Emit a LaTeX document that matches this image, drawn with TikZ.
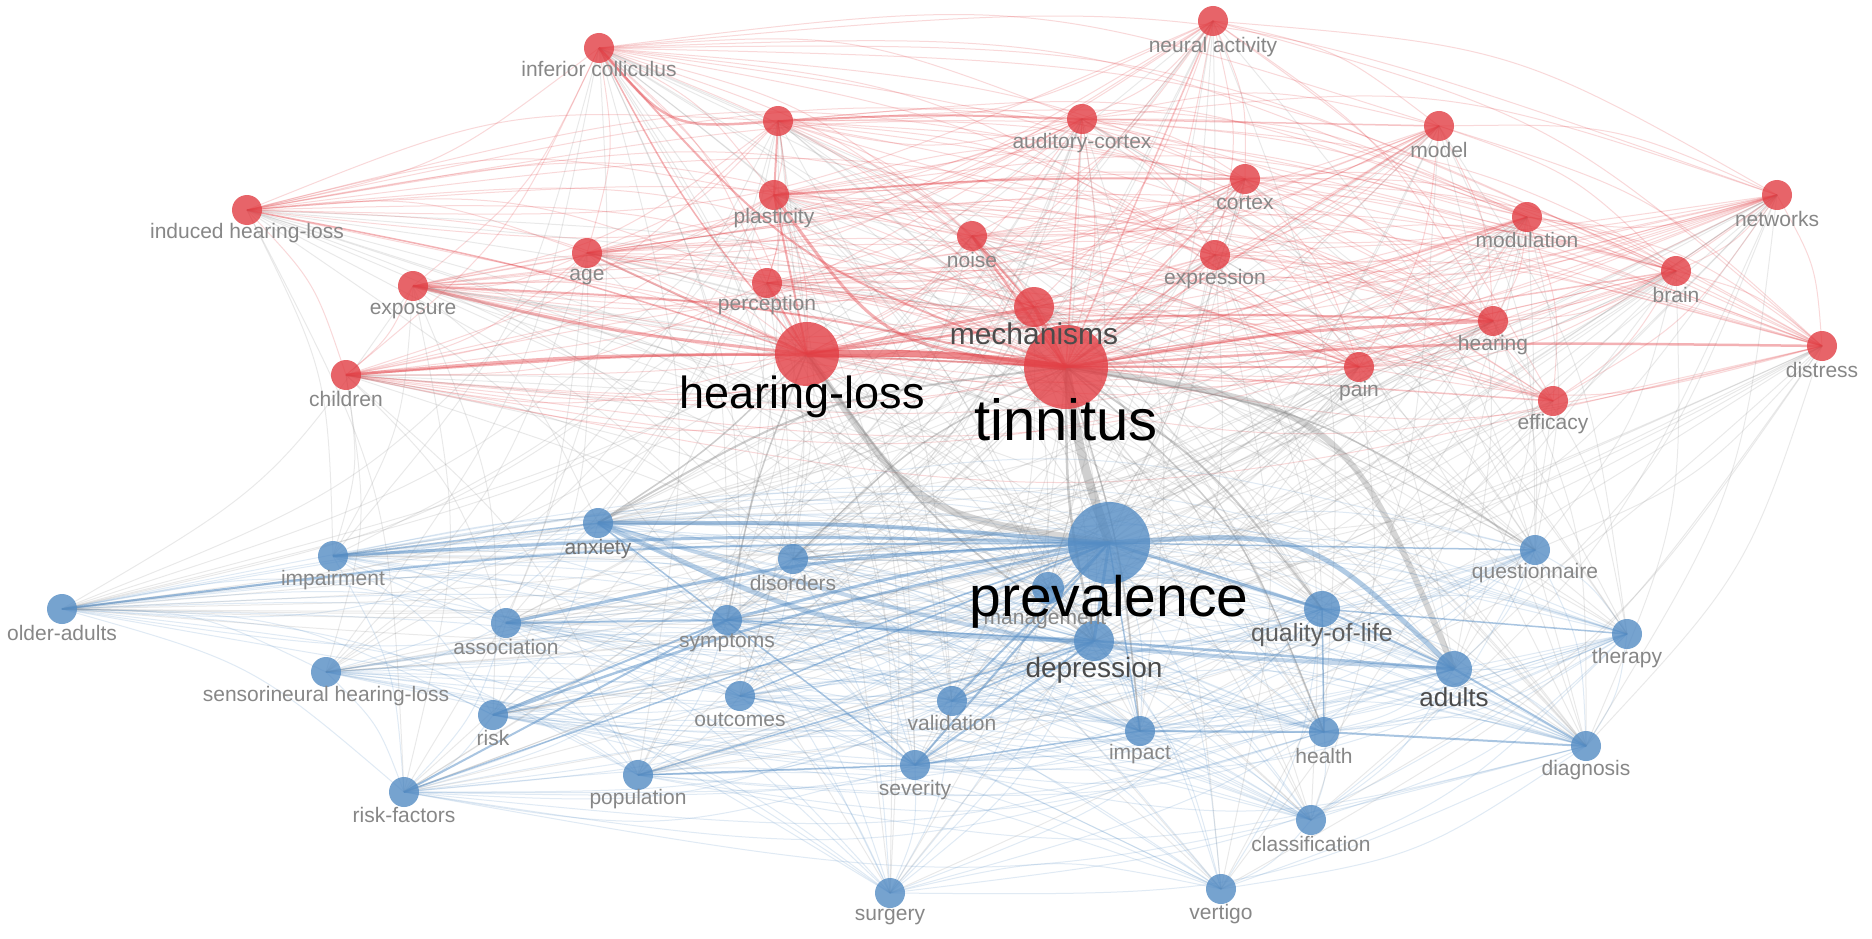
\documentclass[tikz,border=0pt]{standalone}
\usepackage{fontspec}
\setmainfont{Liberation Sans}
\usetikzlibrary{calc}
\definecolor{vred}{RGB}{226,62,68}
\definecolor{vblue}{RGB}{84,140,196}
\definecolor{labgray}{RGB}{135,135,135}
\definecolor{midgray}{RGB}{75,75,75}
\definecolor{edgegray}{RGB}{130,130,130}
\pgfdeclarelayer{bglayer}
\pgfdeclarelayer{edgelayer}
\pgfsetlayers{bglayer,edgelayer,main}
% curved edge: style, from, to, bend factor (positive = bend left)
\newcommand\cedge[4]{\draw[#1] let \p1=(#2.center), \p2=(#3.center) in
  (\p1) .. controls ({0.5*\x1+0.5*\x2-(#4)*(\y2-\y1)},{0.5*\y1+0.5*\y2+(#4)*(\x2-\x1)}) .. (\p2);}
\begin{document}
\begin{tikzpicture}[x=1pt,y=-1pt,
  rn/.style={circle,fill=vred,fill opacity=0.8,draw=none,inner sep=0pt,minimum size=30pt},
  bn/.style={circle,fill=vblue,fill opacity=0.8,draw=none,inner sep=0pt,minimum size=30pt},
  lbl/.style={text=labgray,font=\fontsize{21}{22}\selectfont,inner sep=0pt},
  mlbl/.style={text=midgray,inner sep=0pt},
  blbl/.style={text=black,inner sep=0pt},
  rf/.style={draw=vred,draw opacity=0.2,line width=1pt},
  bf/.style={draw=vblue,draw opacity=0.18,line width=1pt},
  gf/.style={draw=edgegray,draw opacity=0.17,line width=1pt},
  rs/.style={draw=vred,draw opacity=0.4},
  bs/.style={draw=vblue,draw opacity=0.5},
  gs/.style={draw=edgegray,draw opacity=0.4}]
\useasboundingbox (0,0) rectangle (1872,939);
\begin{pgfonlayer}{bglayer}
\fill[white] (0,0) rectangle (1872,939);
\end{pgfonlayer}
% ---------- red cluster ----------
\node[rn] (infcol) at (599,48) {};
\node[rn] (neural) at (1213,21) {};
\node[rn] (audcx) at (1082,119) {};
\node[rn] (model) at (1439,126) {};
\node[rn] (networks) at (1777,195) {};
\node[rn] (indhl) at (247,210) {};
\node[rn] (unl) at (778,121) {};
\node[rn] (plast) at (774,195) {};
\node[rn] (cortex) at (1245,179) {};
\node[rn] (modul) at (1527,217) {};
\node[rn] (age) at (587,253) {};
\node[rn] (noise) at (972,236) {};
\node[rn] (expr) at (1215,255) {};
\node[rn] (brain) at (1676,271) {};
\node[rn] (expos) at (413,286) {};
\node[rn] (percep) at (767,283) {};
\node[rn,minimum size=40pt] (mech) at (1034,307) {};
\node[rn] (hearing) at (1493,321) {};
\node[rn] (distress) at (1822,346) {};
\node[rn,minimum size=64pt] (hl) at (807,354) {};
\node[rn,minimum size=84pt] (tinn) at (1066,367) {};
\node[rn] (children) at (346,375) {};
\node[rn] (pain) at (1359,367) {};
\node[rn] (efficacy) at (1553,401) {};
% ---------- blue cluster ----------
\node[bn] (anxiety) at (598,523) {};
\node[bn] (quest) at (1535,550) {};
\node[bn] (impair) at (333,556) {};
\node[bn] (disord) at (793,559) {};
\node[bn] (olderad) at (62,609) {};
\node[bn,minimum size=32pt] (manag) at (1048,588) {};
\node[bn,minimum size=36pt] (qol) at (1322,609) {};
\node[bn] (therapy) at (1627,634) {};
\node[bn] (assoc) at (506,623) {};
\node[bn] (sympt) at (727,620) {};
\node[bn,minimum size=40pt] (depr) at (1094,641) {};
\node[bn,minimum size=36pt] (adults) at (1454,669) {};
\node[bn] (snhl) at (326,672) {};
\node[bn] (outcomes) at (740,696) {};
\node[bn] (valid) at (952,701) {};
\node[bn] (risk) at (493,715) {};
\node[bn] (impact) at (1140,731) {};
\node[bn] (health) at (1324,732) {};
\node[bn] (diagnosis) at (1586,746) {};
\node[bn] (population) at (638,775) {};
\node[bn] (severity) at (915,765) {};
\node[bn] (riskf) at (404,792) {};
\node[bn] (classif) at (1311,820) {};
\node[bn] (surgery) at (890,893) {};
\node[bn] (vertigo) at (1221,889) {};
\node[bn,minimum size=82pt] (prev) at (1109,543) {};
% ---------- edges ----------
\def\rednodes{infcol,neural,audcx,model,networks,indhl,unl,plast,cortex,modul,age,noise,expr,brain,expos,percep,mech,hearing,distress,hl,tinn,children,pain,efficacy}
\def\bluenodes{prev,anxiety,quest,impair,disord,olderad,manag,qol,therapy,assoc,sympt,depr,adults,snhl,outcomes,valid,risk,impact,health,diagnosis,population,severity,riskf,classif,surgery,vertigo}
\pgfmathsetseed{7}
\begin{pgfonlayer}{edgelayer}
\foreach \ea [count=\ei] in \rednodes {
  \foreach \eb [count=\ej] in \rednodes {
    \ifnum\ej>\ei\relax
      \pgfmathtruncatemacro\keep{rnd<0.85 ? 1 : 0}%
      \ifnum\keep=1\relax \cedge{rf}{\ea}{\eb}{0.11}\fi
    \fi
  }
}
\foreach \ea [count=\ei] in \bluenodes {
  \foreach \eb [count=\ej] in \bluenodes {
    \ifnum\ej>\ei\relax
      \pgfmathtruncatemacro\keep{rnd<0.75 ? 1 : 0}%
      \ifnum\keep=1\relax \cedge{bf}{\ea}{\eb}{0.11}\fi
    \fi
  }
}
\foreach \ea in \rednodes {
  \foreach \eb in \bluenodes {
    \pgfmathtruncatemacro\keep{rnd<0.45 ? 1 : 0}%
    \ifnum\keep=1\relax \cedge{gf}{\ea}{\eb}{0.11}\fi
  }
}
% strong gray
\cedge{gs,line width=9pt,draw opacity=0.38}{tinn}{prev}{-0.04}
\cedge{gs,line width=7pt,draw opacity=0.32}{hl}{prev}{-0.22}
\cedge{gs,line width=6pt,draw opacity=0.32}{tinn}{adults}{0.28}
\cedge{gs,line width=2.5pt}{tinn}{depr}{-0.05}
\cedge{gs,line width=2pt}{tinn}{qol}{0.08}
\cedge{gs,line width=2pt}{tinn}{anxiety}{-0.1}
\cedge{gs,line width=1.8pt}{hl}{depr}{-0.08}
\cedge{gs,line width=1.5pt}{tinn}{quest}{0.1}
\cedge{gs,line width=1.5pt}{tinn}{impact}{0.05}
\cedge{gs,line width=1.5pt}{hl}{sympt}{-0.05}
\cedge{gs,line width=1.5pt}{hl}{anxiety}{0.05}
\cedge{gs,line width=1.5pt}{tinn}{health}{0.12}
\cedge{gs,line width=1.5pt}{tinn}{disord}{-0.08}
% strong red
\cedge{rs,line width=7pt,draw opacity=0.6}{hl}{tinn}{0.03}
\draw[rs,line width=3pt] (hl.center) -- (mech.center);
\draw[rs,line width=4pt] (mech.center) -- (tinn.center);
\cedge{rs,line width=3pt}{children}{hl}{0.02}
\cedge{rs,line width=3pt}{expos}{hl}{-0.03}
\cedge{rs,line width=2pt}{expos}{tinn}{0.04}
\cedge{rs,line width=2pt}{children}{tinn}{0.03}
\draw[rs,line width=2pt] (age.center) -- (hl.center);
\draw[rs,line width=2pt] (percep.center) -- (hl.center);
\draw[rs,line width=2pt] (plast.center) -- (hl.center);
\draw[rs,line width=2pt] (unl.center) -- (plast.center);
\cedge{rs,line width=2.5pt}{infcol}{unl}{-0.25}
\cedge{rs,line width=2pt}{infcol}{tinn}{-0.12}
\cedge{rs,line width=1.5pt}{infcol}{hl}{-0.05}
\cedge{rs,line width=2pt}{unl}{audcx}{0.02}
\draw[rs,line width=1.5pt,draw opacity=0.3] (audcx.center) -- (model.center);
\cedge{rs,line width=3pt}{plast}{tinn}{-0.22}
\cedge{rs,line width=2pt}{plast}{cortex}{0.02}
\draw[rs,line width=2.5pt] (noise.center) -- (tinn.center);
\draw[rs,line width=2pt] (noise.center) -- (mech.center);
\cedge{rs,line width=3pt}{tinn}{hearing}{0.03}
\cedge{rs,line width=2.5pt}{tinn}{distress}{0.02}
\cedge{rs,line width=2pt}{hl}{hearing}{0.04}
\draw[rs,line width=2pt] (tinn.center) -- (pain.center);
\draw[rs,line width=1.5pt,draw opacity=0.3] (tinn.center) -- (expr.center);
\draw[rs,line width=1.5pt,draw opacity=0.3] (tinn.center) -- (efficacy.center);
\draw[rs,line width=1.5pt,draw opacity=0.3] (tinn.center) -- (brain.center);
\draw[rs,line width=1.5pt,draw opacity=0.3] (tinn.center) -- (audcx.center);
\draw[rs,line width=1.5pt,draw opacity=0.3] (tinn.center) -- (neural.center);
\draw[rs,line width=1.5pt,draw opacity=0.3] (tinn.center) -- (cortex.center);
\draw[rs,line width=1.5pt,draw opacity=0.3] (tinn.center) -- (modul.center);
\draw[rs,line width=1.5pt,draw opacity=0.3] (tinn.center) -- (model.center);
\cedge{rs,line width=1.5pt}{indhl}{hl}{0.03}
% strong blue
\cedge{bs,line width=4pt}{anxiety}{prev}{0.02}
\cedge{bs,line width=5pt,draw opacity=0.4}{anxiety}{depr}{-0.1}
\cedge{bs,line width=4pt,draw opacity=0.35}{anxiety}{adults}{-0.06}
\cedge{bs,line width=5pt,draw opacity=0.45}{prev}{adults}{0.22}
\draw[bs,line width=3pt] (prev.center) -- (qol.center);
\draw[bs,line width=3pt] (prev.center) -- (depr.center);
\cedge{bs,line width=3pt}{impair}{prev}{0.02}
\cedge{bs,line width=2pt}{olderad}{prev}{0.03}
\cedge{bs,line width=3pt}{sympt}{prev}{0.03}
\cedge{bs,line width=3pt}{assoc}{prev}{0.04}
\draw[bs,line width=2pt] (assoc.center) -- (sympt.center);
\cedge{bs,line width=2.5pt}{risk}{prev}{0.03}
\draw[bs,line width=2pt] (risk.center) -- (sympt.center);
\draw[bs,line width=2pt] (riskf.center) -- (sympt.center);
\draw[bs,line width=1.5pt] (riskf.center) -- (prev.center);
\draw[bs,line width=1.5pt] (population.center) -- (depr.center);
\draw[bs,line width=2pt] (severity.center) -- (prev.center);
\draw[bs,line width=2pt] (severity.center) -- (depr.center);
\draw[bs,line width=1.5pt] (anxiety.center) -- (severity.center);
\draw[bs,line width=1.5pt] (valid.center) -- (depr.center);
\draw[bs,line width=2pt] (valid.center) -- (prev.center);
\draw[bs,line width=2.5pt] (depr.center) -- (adults.center);
\draw[bs,line width=2pt] (qol.center) -- (adults.center);
\draw[bs,line width=2pt] (adults.center) -- (diagnosis.center);
\draw[bs,line width=2pt] (health.center) -- (diagnosis.center);
\draw[bs,line width=2pt] (impact.center) -- (health.center);
\draw[bs,line width=1.5pt] (qol.center) -- (health.center);
\draw[bs,line width=1.5pt] (qol.center) -- (therapy.center);
\draw[bs,line width=1.5pt] (prev.center) -- (quest.center);
\draw[bs,line width=1.5pt] (disord.center) -- (prev.center);
\draw[bs,line width=1.5pt] (impair.center) -- (anxiety.center);
\draw[bs,line width=1.5pt] (impact.center) -- (prev.center);
\draw[bs,line width=1.5pt] (severity.center) -- (impact.center);
\draw[bs,line width=1.5pt] (population.center) -- (severity.center);
\draw[bs,line width=1.5pt] (outcomes.center) -- (prev.center);
\draw[bs,line width=1.5pt] (sympt.center) -- (depr.center);
\end{pgfonlayer}
% ---------- labels ----------
\node[lbl] (infcol-l) at (599,69) {inferior colliculus};
\node[lbl] (neural-l) at (1213,47) {neural activity};
\node[lbl] (audcx-l) at (1082,143) {auditory-cortex};
\node[lbl] (model-l) at (1439,150) {model};
\node[lbl] (networks-l) at (1777,219) {networks};
\node[lbl] (indhl-l) at (247,233) {induced hearing-loss};
\node[lbl] (plast-l) at (774,218) {plasticity};
\node[lbl] (cortex-l) at (1245,203) {cortex};
\node[lbl] (modul-l) at (1527,240) {modulation};
\node[lbl] (age-l) at (587,277) {age};
\node[lbl] (noise-l) at (972,260) {noise};
\node[lbl] (expr-l) at (1215,279) {expression};
\node[lbl] (brain-l) at (1676,295) {brain};
\node[lbl] (expos-l) at (413,311) {exposure};
\node[lbl] (percep-l) at (767,305) {perception};
\node[lbl] (hearing-l) at (1493,345) {hearing};
\node[lbl] (distress-l) at (1822,370) {distress};
\node[lbl] (children-l) at (346,399) {children};
\node[lbl] (pain-l) at (1359,391) {pain};
\node[lbl] (efficacy-l) at (1553,424) {efficacy};
\node[mlbl,font=\fontsize{30}{32}\selectfont] (mech-l) at (1034,334) {mechanisms};
\node[blbl,font=\fontsize{45}{48}\selectfont] (hl-l) at (802,397) {hearing-loss};
\node[blbl,font=\fontsize{58}{60}\selectfont] (tinn-l) at (1066,420) {tinnitus};
\node[lbl,text=labgray!85!black] (anxiety-l) at (598,549) {anxiety};
\node[lbl] (quest-l) at (1535,573) {questionnaire};
\node[lbl] (impair-l) at (333,580) {impairment};
\node[lbl] (disord-l) at (793,583) {disorders};
\node[lbl] (olderad-l) at (62,633) {older-adults};
\node[lbl] (manag-l) at (1045,620) {management};
\node[lbl] (therapy-l) at (1627,658) {therapy};
\node[lbl] (assoc-l) at (506,647) {association};
\node[lbl] (sympt-l) at (727,643) {symptoms};
\node[lbl] (snhl-l) at (326,696) {sensorineural hearing-loss};
\node[lbl] (outcomes-l) at (740,720) {outcomes};
\node[lbl] (valid-l) at (952,723) {validation};
\node[lbl] (risk-l) at (493,738) {risk};
\node[lbl] (impact-l) at (1140,754) {impact};
\node[lbl] (health-l) at (1324,756) {health};
\node[lbl] (diagnosis-l) at (1586,770) {diagnosis};
\node[lbl] (population-l) at (638,799) {population};
\node[lbl] (severity-l) at (915,790) {severity};
\node[lbl] (riskf-l) at (404,815) {risk-factors};
\node[lbl] (classif-l) at (1311,844) {classification};
\node[lbl] (surgery-l) at (890,917) {surgery};
\node[lbl] (vertigo-l) at (1221,914) {vertigo};
\node[mlbl,text=labgray!70!black,font=\fontsize{25}{27}\selectfont] (qol-l) at (1322,635) {quality-of-life};
\node[mlbl,font=\fontsize{28}{30}\selectfont] (depr-l) at (1094,670) {depression};
\node[mlbl,font=\fontsize{26}{28}\selectfont] (adults-l) at (1454,697) {adults};
\node[blbl,font=\fontsize{57}{60}\selectfont] (prev-l) at (1109,602) {prevalence};
\end{tikzpicture}
\end{document}
